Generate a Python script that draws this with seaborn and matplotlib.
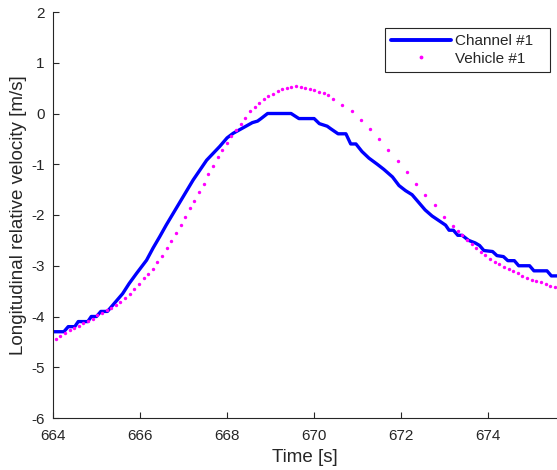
import matplotlib
matplotlib.use("Agg")
import matplotlib.pyplot as plt
import seaborn as sns
import pandas as pd
from matplotlib.lines import Line2D

# Channel #1 (blue, quantised to 0.1 m/s)
ch_time = [664.00, 664.25, 664.35, 664.50, 664.58, 664.80, 664.88, 665.00, 665.10, 665.25,
           665.45, 665.60, 665.75, 665.92, 666.15, 666.30, 666.45, 666.60, 666.76, 666.99,
           667.22, 667.53, 667.83, 668.00, 668.14, 668.35, 668.58, 668.70, 668.78, 668.93,
           669.47, 669.65, 670.00, 670.12, 670.30, 670.38, 670.55, 670.73, 670.84, 670.96,
           671.10, 671.26, 671.45, 671.60, 671.80, 671.95, 672.10, 672.25, 672.40, 672.55,
           672.71, 672.90, 673.02, 673.10, 673.20, 673.30, 673.40, 673.55, 673.70, 673.80,
           673.90, 674.10, 674.20, 674.35, 674.45, 674.60, 674.70, 674.95, 675.05, 675.35,
           675.45, 675.60]
ch_vel = [-4.3, -4.3, -4.2, -4.2, -4.1, -4.1, -4.0, -4.0, -3.9, -3.9,
          -3.7, -3.55, -3.35, -3.15, -2.89, -2.65, -2.43, -2.2, -1.97, -1.64,
          -1.31, -0.92, -0.65, -0.48, -0.39, -0.29, -0.18, -0.15, -0.1, 0.0,
          0.0, -0.1, -0.1, -0.2, -0.25, -0.3, -0.4, -0.4, -0.6, -0.6,
          -0.75, -0.88, -1.0, -1.1, -1.25, -1.42, -1.52, -1.6, -1.75, -1.9,
          -2.02, -2.13, -2.2, -2.3, -2.3, -2.4, -2.4, -2.5, -2.55, -2.6,
          -2.7, -2.72, -2.8, -2.82, -2.9, -2.9, -3.0, -3.0, -3.1, -3.1,
          -3.2, -3.2]

# Vehicle #1 (magenta dots, one per sample)
veh_time = [664.06, 664.17, 664.27, 664.38, 664.48, 664.59, 664.70, 664.80, 664.91, 665.02,
            665.12, 665.23, 665.33, 665.44, 665.55, 665.65, 665.76, 665.87, 665.97, 666.08,
            666.18, 666.29, 666.40, 666.50, 666.61, 666.72, 666.82, 666.93, 667.03, 667.14,
            667.25, 667.35, 667.46, 667.56, 667.67, 667.78, 667.88, 667.99, 668.10, 668.20,
            668.31, 668.41, 668.52, 668.63, 668.73, 668.84, 668.94, 669.05, 669.16, 669.26,
            669.37, 669.47, 669.58, 669.69, 669.79, 669.90, 670.00, 670.11, 670.22, 670.32,
            670.43, 670.64, 670.86, 671.07, 671.28, 671.49, 671.70, 671.92, 672.13, 672.34,
            672.55, 672.77, 672.98, 673.19, 673.30, 673.40, 673.51, 673.62, 673.72, 673.83,
            673.93, 674.04, 674.15, 674.25, 674.36, 674.47, 674.57, 674.68, 674.78, 674.89,
            675.00, 675.10, 675.21, 675.32, 675.42, 675.53]
veh_vel = [-4.44, -4.39, -4.33, -4.27, -4.23, -4.18, -4.13, -4.09, -4.04, -3.98,
           -3.93, -3.88, -3.83, -3.78, -3.71, -3.64, -3.55, -3.46, -3.36, -3.25,
           -3.16, -3.06, -2.93, -2.80, -2.66, -2.51, -2.35, -2.20, -2.04, -1.87,
           -1.72, -1.55, -1.38, -1.20, -1.03, -0.86, -0.72, -0.58, -0.45, -0.32,
           -0.20, -0.08, 0.04, 0.12, 0.20, 0.28, 0.34, 0.39, 0.44, 0.48,
           0.51, 0.53, 0.54, 0.53, 0.51, 0.49, 0.47, 0.43, 0.40, 0.36,
           0.29, 0.17, 0.04, -0.13, -0.31, -0.50, -0.71, -0.94, -1.16, -1.38,
           -1.61, -1.80, -2.03, -2.21, -2.31, -2.40, -2.49, -2.57, -2.65, -2.72,
           -2.79, -2.86, -2.92, -2.97, -3.02, -3.07, -3.11, -3.15, -3.20, -3.24,
           -3.28, -3.30, -3.33, -3.36, -3.39, -3.41]

x_ticks = [664, 666, 668, 670, 672, 674]
y_ticks = [-6, -5, -4, -3, -2, -1, 0, 1, 2]

sns.set_style("ticks")
plt.rcParams['font.family'] = ['Liberation Sans', 'DejaVu Sans']

fig = plt.figure(figsize=(5.57, 4.70), dpi=100)
ax = fig.add_axes([53 / 557, 52 / 470, 504 / 557, 406 / 470])

ch_df = pd.DataFrame({"t": ch_time, "v": ch_vel})
veh_df = pd.DataFrame({"t": veh_time, "v": veh_vel})

sns.lineplot(data=ch_df, x="t", y="v", ax=ax, sort=False, estimator=None,
             color=(0, 0, 1), linewidth=2.4, legend=False)
sns.scatterplot(data=veh_df, x="t", y="v", ax=ax, color=(1, 0, 1), s=6,
                linewidth=0, legend=False, zorder=3)

ax.set_xlim(664, 675.58)
ax.set_ylim(-6, 2)
ax.set_xticks(x_ticks)
ax.set_yticks(y_ticks)
ax.set_xticklabels([str(t) for t in x_ticks])
ax.set_yticklabels([str(t) for t in y_ticks])
ax.tick_params(direction='in', length=4, width=0.8, labelsize=11, colors='#262626')
ax.tick_params(axis='x', pad=8)
ax.tick_params(axis='y', pad=6)
for s in ['top', 'right']:
    ax.spines[s].set_visible(False)
for s in ['left', 'bottom']:
    ax.spines[s].set_linewidth(0.8)
    ax.spines[s].set_color('#262626')

ax.set_xlabel("Time [s]", fontsize=13.5, color='#262626', labelpad=4)
ax.set_ylabel("Longitudinal relative velocity [m/s]", fontsize=13.5, color='#262626',
              labelpad=3)

handles = [Line2D([0], [0], color=(0, 0, 1), linewidth=2.8),
           Line2D([0], [0], color=(1, 0, 1), linestyle='none', marker='.',
                  markersize=3.5)]
leg = ax.legend(handles, ["Channel #1", "Vehicle #1"], loc='upper left',
                bbox_to_anchor=(0.659, 0.0, 0.327, 0.961), mode='expand',
                borderaxespad=0, fancybox=False,
                frameon=True, edgecolor='#262626', framealpha=1, fontsize=11,
                handlelength=3.9, handletextpad=0.3, borderpad=0.4,
                labelspacing=0.25)
leg.get_frame().set_linewidth(0.8)

fig.savefig("out.png", dpi=100)
